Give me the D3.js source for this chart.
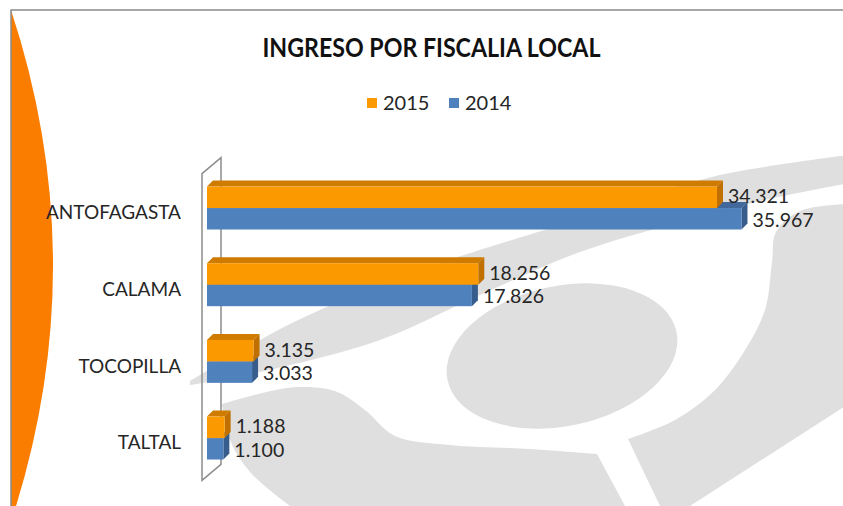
<!DOCTYPE html>
<html><head><meta charset="utf-8">
<script src="https://cdn.jsdelivr.net/npm/d3@7"></script>
<style>body{margin:0;background:#fff}svg{display:block}</style>
</head><body>
<svg id="c" width="843" height="506"></svg>
<script>
// ---- data ----
const title = "INGRESO POR FISCALIA LOCAL";
const categories = ["ANTOFAGASTA", "CALAMA", "TOCOPILLA", "TALTAL"];
const seriesNames = ["2015", "2014"];
const values2015 = [34321, 18256, 3135, 1188];
const values2014 = [35967, 17826, 3033, 1100];

// ---- styles ----
const colors = {
  "2015": {front: "#fb9a00", top: "#cf7b00", side: "#c07000"},
  "2014": {front: "#4f81bd", top: "#41699b", side: "#375d8c"}
};
const font = "Lato, 'Open Sans', sans-serif";
const svg = d3.select("#c");

// ---- background ----
svg.append("rect").attr("width", 843).attr("height", 506).attr("fill", "#fff");

// watermark (decorative logo)
const seg = pts => d3.line().curve(d3.curveCatmullRom.alpha(0.5))(pts);
const wm = svg.append("g").attr("fill", "#dfdfdf");
const upperTop = [[190,381],[294,322],[420,270],[560,225],[712,177],[850,155]];
const upperBot = [[850,183],[760,201],[680,222],[580,252],[480,295],[380,340],[260,372],[190,385]];
wm.append("path").attr("d", seg(upperTop) + seg(upperBot).replace(/^M/, "L") + "Z");
const rightInner = [[850,204],[800,211],[776,232],[772,262],[765,310],[745,350],[715,390],[675,420],[628,439]];
wm.append("path").attr("d", seg(rightInner) + "L660,506L690,506L850,403Z");
const lowTop = [[222,404],[262,393],[297,387],[335,391],[365,410],[395,436],[450,445],[530,449],[597,454]];
const lowLeft = [[290,506],[250,472],[230,440],[222,404]];
wm.append("path").attr("d", seg(lowTop) + "L625,506" + seg(lowLeft).replace(/^M/, "L") + "Z");
wm.append("ellipse").attr("cx", 562).attr("cy", 356).attr("rx", 117).attr("ry", 70)
  .attr("transform", "rotate(-12,562,356)");

// orange side shape
svg.append("path").attr("d", "M11,10 Q95,265 11,522 Z").attr("fill", "#fa7d00");
// frame
svg.append("rect").attr("x", 11).attr("y", 10).attr("width", 845).attr("height", 520)
  .attr("fill", "none").attr("stroke", "#8a8a8a").attr("stroke-width", 1.5);

// ---- title & legend ----
svg.append("text").attr("x", 431.5).attr("y", 57).attr("text-anchor", "middle")
  .attr("font-family", font).attr("font-weight", 700).attr("font-size", 26)
  .attr("fill", "#111").attr("textLength", 338).attr("lengthAdjust", "spacingAndGlyphs")
  .text(title);

const legendX = {"2015": 367, "2014": 449};
seriesNames.forEach(s => {
  svg.append("rect").attr("x", legendX[s]).attr("y", 98).attr("width", 10).attr("height", 10)
    .attr("fill", colors[s].front);
  svg.append("text").attr("x", legendX[s] + 16).attr("y", 110)
    .attr("font-family", font).attr("font-size", 20).attr("fill", "#262626").text(s);
});

// ---- scales ----
const x = d3.scaleLinear().domain([0, 40000]).range([207, 801.4]);
const y = d3.scaleBand().domain(categories).range([169.7, 476.4]).paddingInner(0.44).paddingOuter(0.22);
const ySub = d3.scaleBand().domain(seriesNames).range([0, y.bandwidth()]);
const valueOf = {"2015": values2015, "2014": values2014};

// ---- wall (3D floor at value 0) ----
const wf = {x: x(0) - 5, y0: y.range()[0] + 4, y1: y.range()[1] + 4};
const wd = [19, -16];
svg.append("path")
  .attr("d", `M${wf.x},${wf.y1}L${wf.x},${wf.y0}L${wf.x + wd[0]},${wf.y0 + wd[1]}L${wf.x + wd[0]},${wf.y1 + wd[1]}Z`)
  .attr("fill", "none").attr("stroke", "#8c8c8c").attr("stroke-width", 1.5);

// ---- bars ----
const bd = [6, -6];
const gBars = svg.append("g");
categories.forEach((c, i) => {
  ["2014", "2015"].forEach(s => {
    const v = valueOf[s][i];
    const x0 = x(0), x1 = x(v);
    const y0 = y(c) + ySub(s), h = ySub.bandwidth();
    const col = colors[s];
    gBars.append("path")
      .attr("d", `M${x0},${y0}L${x0 + bd[0]},${y0 + bd[1]}L${x1 + bd[0]},${y0 + bd[1]}L${x1},${y0}Z`)
      .attr("fill", col.top);
    gBars.append("path")
      .attr("d", `M${x1},${y0}L${x1 + bd[0]},${y0 + bd[1]}L${x1 + bd[0]},${y0 + h + bd[1]}L${x1},${y0 + h}Z`)
      .attr("fill", col.side);
    gBars.append("rect").attr("x", x0).attr("y", y0).attr("width", x1 - x0).attr("height", h)
      .attr("fill", col.front);
  });
});

// ---- labels ----
const loc = d3.formatLocale({decimal: ",", thousands: ".", grouping: [3], currency: ["$", ""]});
const fmt = loc.format(",d");
const nudge = {"2015": -1, "2014": 1};
categories.forEach((c, i) => {
  seriesNames.forEach(s => {
    const v = valueOf[s][i];
    svg.append("text").attr("x", x(v) + 11)
      .attr("y", y(c) + ySub(s) + ySub.bandwidth() / 2 + nudge[s])
      .attr("dy", "0.36em").attr("font-family", font).attr("font-size", 19.5)
      .attr("fill", "#262626").text(fmt(v));
  });
  svg.append("text").attr("x", 181).attr("y", y(c) + y.bandwidth() / 2 + 4.5)
    .attr("dy", "0.36em").attr("text-anchor", "end").attr("font-family", font)
    .attr("font-size", 19).attr("fill", "#262626").text(c);
});
</script>
</body></html>
